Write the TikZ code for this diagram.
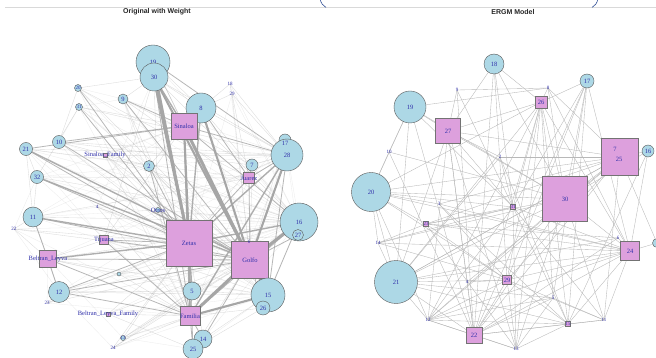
\documentclass[tikz,border=0pt]{standalone}
\usepackage{fontspec}
\setmainfont{Liberation Serif}
\newfontfamily\titlefont{Liberation Sans}
\usetikzlibrary{backgrounds}
\definecolor{lblue}{HTML}{ADD8E6}
\definecolor{plum}{HTML}{DDA0DD}
\definecolor{nlabel}{RGB}{48,48,170}
\definecolor{edgegray}{HTML}{A6A6A6}
\definecolor{framecol}{RGB}{50,80,150}
\tikzset{
  lbl/.style={font=\fontsize{6.5}{6.5}\selectfont, text=nlabel, inner sep=0pt},
  slbl/.style={font=\fontsize{5}{5}\selectfont, text=nlabel, inner sep=0pt},
  cnode/.style={circle, draw=black!65, line width=0.4pt, fill=lblue, inner sep=0pt, minimum size=#1, lbl},
  snode/.style={rectangle, draw=black!55, line width=0.4pt, fill=plum, inner sep=0pt, minimum size=#1, lbl},
  tnode/.style={slbl},
  w0/.style={draw=edgegray, line width=0.3pt, opacity=0.22},
  w1/.style={draw=edgegray, line width=0.35pt, opacity=0.4},
  w2/.style={draw=edgegray, line width=0.8pt, opacity=0.8},
  w3/.style={draw=edgegray, line width=1.4pt, opacity=0.9},
  w4/.style={draw=edgegray, line width=2.1pt},
  w5/.style={draw=edgegray, line width=3pt},
  rline/.style={draw=black!28, line width=0.35pt},
  paneltitle/.style={font=\titlefont\bfseries\fontsize{7}{7}\selectfont, text=black!85}
}
\begin{document}
\begin{tikzpicture}[x=1pt, y=-1pt]
\useasboundingbox (0,0) rectangle (656,358);
\begin{scope}[on background layer]
\fill[white] (0,0) rectangle (656,358);
\end{scope}

% strip along the top edge
\draw[black!15, line width=0.6pt] (5,7) -- (656,7);
\draw[framecol, line width=0.6pt] (320,-1) .. controls (321,3) and (323,6) .. (326,7.5);
\draw[framecol, line width=0.6pt] (598,-1) .. controls (597,3) and (595,6) .. (592,7.5);

\node[paneltitle] (tleft) at (157,12) {Original with Weight};
\node[paneltitle] (tright) at (513,12) {ERGM Model};

% ---------------- left network: nodes ----------------
\node[cnode=34pt] (L19) at (153,62) {19};
\node[cnode=28pt] (L30) at (154,77) {30};
\node[cnode=30pt] (L8) at (201,108) {8};
\node[tnode] (L18) at (230,84) {18};
\node[tnode] (L29) at (232,94) {29};
\node[cnode=7pt, slbl] (L20) at (78,88) {20};
\node[cnode=10pt] (L9) at (123,99) {9};
\node[cnode=7pt, slbl] (L31) at (79,107) {31};
\node[snode=26pt] (Sinaloa) at (184,126) {Sinaloa};
\node[cnode=13pt] (L10) at (59,142) {10};
\node[cnode=13pt] (L21) at (26,149) {21};
\node[snode=4pt] (SinFam) at (105,155) {};
\node[lbl] at (SinFam) {Sinaloa\_Family};
\node[cnode=11pt] (L2) at (149,166) {2};
\node[cnode=13pt] (L32) at (37,177) {32};
\node[cnode=12pt] (L17) at (285,140) {};
\node[cnode=32pt] (L28) at (287,155) {28};
\node[lbl] at (285,143) {17};
\node[cnode=12pt] (L7) at (252,165) {7};
\node[snode=11pt] (Juarez) at (249,178) {};
\node[lbl] at (Juarez) {Juarez};
\node[tnode] (L4) at (97,207) {4};
\node[cnode=5pt] (Otros) at (158,210) {};
\node[lbl] at (Otros) {Otros};
\node[cnode=20pt] (L11) at (33,217) {11};
\node[tnode] (L22) at (14,229) {22};
\node[cnode=38pt] (L16) at (299,222) {16};
\node[cnode=11pt] (L27) at (298,235) {27};
\node[snode=9pt] (Tijuana) at (104,240) {};
\node[lbl] at (Tijuana) {Tijuana};
\node[snode=46pt] (Zetas) at (189,243) {Zetas};
\node[snode=37pt] (Golfo) at (250,260) {Golfo};
\node[tnode] (L6) at (249,242) {6};
\node[snode=17pt] (BL) at (48,259) {};
\node[lbl] at (BL) {Beltran\_Leyva};
\node[cnode=4pt] (L3) at (119,274) {};
\node[cnode=18pt] (L5) at (192,291) {5};
\node[cnode=21pt] (L12) at (59,292) {12};
\node[cnode=34pt] (L15) at (268,295) {15};
\node[cnode=14pt] (L26) at (263,308) {26};
\node[tnode] (L23) at (47,303) {23};
\node[snode=4pt] (BLFam) at (108,314) {};
\node[lbl] at (BLFam) {Beltran\_Leyva\_Family};
\node[snode=19pt] (Familia) at (190,316) {Familia};
\node[cnode=18pt] (L14) at (203,339) {14};
\node[cnode=20pt] (L25) at (193,349) {25};
\node[cnode=5pt] (L13) at (123,338) {};
\node[tnode] at (L13) {13};
\node[tnode] (L24) at (113,348) {24};

% ---------------- left network: weighted ties ----------------
\begin{scope}[on background layer]
% faint ties
\foreach \a/\b in {L21/L2, L21/Otros, L21/Tijuana, L21/L16, L32/Sinaloa, L32/L2, L32/Otros,
  L32/Familia, L11/L2, L11/Sinaloa, L11/Otros, L11/L15, L22/L12, L22/Familia, L22/L16,
  L20/L2, L20/L16, L20/Familia, L31/L2, L31/L16, L31/Familia, L9/L28, L9/Familia, L9/L15,
  L10/L16, L10/Familia, L10/L15, L2/L28, L2/L16, L2/L5, L4/L30, L4/L28, L4/L16, L4/L15,
  Otros/L28, Otros/L15, Tijuana/L16, Tijuana/L15, Tijuana/L28, BL/L28, BL/L5, L3/L16, L3/L15,
  L12/L16, L12/L28, L23/L16, L23/Familia, BLFam/L15, BLFam/L16, L13/L15, L24/L15, L24/L16,
  L24/L5, L13/L25, L5/L16, L25/L15, L14/L16, L26/L16, L27/L28, L17/L16, L17/Zetas, L18/Golfo,
  L29/Zetas, L18/L16, L29/L16, L8/L15, L8/Familia, L19/L16, L19/L15, L30/L15, L7/L16,
  Juarez/L16, Juarez/Familia, L6/L16, L6/L28, SinFam/L28, SinFam/L15, SinFam/Familia,
  L22/L32, L23/BL, L13/BL, L24/L12, L3/L12, L4/L11, L4/L21, L9/L20, L9/L31, L10/L31}
  \draw[w0] (\a.center) -- (\b.center);
\foreach \a/\b in {L18/L8, L29/L8, L18/Juarez, L29/Golfo, L9/L30, L9/Zetas, L20/L30,
  L31/Sinaloa, L10/Zetas, L21/L32, L21/L11, L32/L11, L11/L12, L12/L23, L4/Zetas, L4/Golfo,
  Otros/Zetas, Otros/L30, L2/Golfo, L2/Sinaloa, SinFam/Zetas, SinFam/Sinaloa, L7/L28, L7/Golfo,
  L17/Golfo, L27/L16, L26/L15, L25/L14, L3/Zetas, L3/BL, L3/Golfo, BLFam/Zetas, BLFam/Golfo,
  L13/Familia, L24/Zetas, L13/Golfo, L22/Zetas, L22/L11, L22/BL, Tijuana/Sinaloa, Tijuana/L30,
  Tijuana/BL, L5/Golfo, L5/L15, L14/Zetas, L25/Golfo, L15/Zetas, L26/Familia, L8/Sinaloa,
  L8/L28, L8/L16, L19/Golfo, L19/Sinaloa, L30/L28, L30/L16, L10/L2, L20/L10, L9/L2, L31/L32,
  L20/Golfo, L31/Golfo, L21/Juarez, L32/Juarez, L11/Juarez, L10/L28, L9/L16, L12/L15,
  BL/L15, BL/L16, L23/Golfo, L24/Golfo, L13/L5, BLFam/L25, BLFam/Familia, L2/L15, L4/Familia,
  SinFam/Golfo, SinFam/L16, L20/Juarez, L31/L28, Otros/L16, Otros/Familia, L7/Zetas, L27/Zetas,
  L19/L8, L30/L8, L9/L7, L10/L7, L21/L28, L32/L16, L11/L16, L12/L5, L3/Familia, L6/Zetas,
  L22/Golfo, L23/Zetas, L13/Zetas, L24/Familia, L14/L15, L25/L26, L29/L28, L18/L28}
  \draw[w1] (\a.center) -- (\b.center);
\foreach \a/\b in {L10/Sinaloa, L32/Zetas, BL/Golfo, BL/L12, BL/L11, Tijuana/Zetas,
  Tijuana/Golfo, Familia/L5, Familia/L25, Familia/L14, Juarez/Zetas, Juarez/Golfo, Juarez/L28,
  L7/Juarez, Otros/Golfo, L2/Familia, L2/Zetas, L20/Zetas, L31/Zetas, L12/Zetas, L12/Golfo,
  L25/Zetas, L14/Golfo, L26/Golfo, L27/Golfo, L16/Familia, L21/Sinaloa, L11/Golfo, L9/Golfo,
  L30/Familia, L28/Sinaloa, L16/Sinaloa, BL/Familia, L12/Familia, Tijuana/Familia, L10/Golfo,
  L8/Juarez, L28/L15, L16/L15, L6/Golfo, L19/L28, L9/Sinaloa, L21/Zetas}
  \draw[w2] (\a.center) -- (\b.center);
\foreach \a/\b in {L30/Sinaloa, L28/Zetas, L16/Zetas, L11/Zetas, L21/Golfo, BL/Zetas,
  Familia/Zetas, L5/Zetas, L8/Zetas, L28/Familia, Sinaloa/Familia, L32/Golfo}
  \draw[w3] (\a.center) -- (\b.center);
\foreach \a/\b in {L30/Golfo, Sinaloa/Zetas, L28/Golfo, L15/Golfo, L8/Golfo, L19/Zetas,
  Familia/L15}
  \draw[w4] (\a.center) -- (\b.center);
\foreach \a/\b in {L30/Zetas, Sinaloa/Golfo, L16/Golfo, Familia/Golfo}
  \draw[w5] (\a.center) -- (\b.center);
\end{scope}

% ---------------- right network: nodes ----------------
\node[cnode=20pt] (R18) at (494,64) {18};
\node[cnode=14pt] (R17) at (587,81) {17};
\node[tnode] (R9) at (457,90) {9};
\node[tnode] (R8) at (548,88) {8};
\node[snode=12pt] (R26) at (541,102) {26};
\node[cnode=32pt] (R19) at (410,107) {19};
\node[snode=25pt] (R27) at (448,131) {27};
\node[tnode] (R10) at (389,152) {10};
\node[tnode] (R2) at (500,157) {2};
\node[snode=37pt] (R25) at (620,157) {};
\node[lbl] at (619,159) {25};
\node[lbl] (R7) at (615,149) {7};
\node[cnode=12pt] (R16) at (648,151) {16};
\node[cnode=39pt] (R20) at (371,192) {20};
\node[snode=45pt] (R30) at (565,199) {30};
\node[tnode] (R3) at (439,204) {3};
\node[snode=5pt, slbl] (R31) at (513,207) {31};
\node[snode=5pt, slbl] (R23) at (426,224) {23};
\node[tnode] (R14) at (378,243) {14};
\node[tnode] (R6) at (618,238) {6};
\node[snode=19pt] (R24) at (630,251) {24};
\node[cnode=9pt] (R1) at (657,243) {};
\node[cnode=43pt] (R21) at (396,282) {21};
\node[tnode] (R4) at (467,282) {4};
\node[snode=9pt] (R29) at (507,280) {29};
\node[tnode] (R5) at (553,298) {5};
\node[tnode] (R12) at (428,320) {12};
\node[snode=5pt, slbl] (R15) at (568,324) {15};
\node[tnode] (R11) at (604,320) {11};
\node[snode=16pt] (R22) at (474,335) {22};
\node[tnode] (R13) at (516,349) {13};

% ---------------- right network: simulated ties ----------------
\begin{scope}[on background layer]
\foreach \a/\b in {R18/R27, R18/R30, R18/R31, R18/R26, R18/R29, R18/R22,
  R17/R30, R17/R24, R17/R29, R17/R31, R17/R22, R17/R26, R17/R5, R17/R15,
  R9/R8, R9/R27, R9/R22, R9/R31,
  R8/R19, R8/R26, R8/R24, R8/R25, R8/R30,
  R26/R30, R26/R29, R26/R22, R26/R24, R26/R5, R26/R15, R26/R12, R26/R20, R26/R27, R26/R31, R26/R13, R26/R21,
  R19/R27, R19/R31, R19/R22, R19/R21, R19/R20, R19/R10, R19/R30,
  R27/R25, R27/R31, R27/R30, R27/R21, R27/R12, R27/R13, R27/R2, R27/R22, R27/R4,
  R10/R20, R10/R30, R10/R22,
  R2/R21, R2/R31, R2/R15, R2/R25,
  R20/R25, R20/R30, R20/R24, R20/R29, R20/R21, R20/R31, R20/R23, R20/R12, R20/R3, R20/R14,
  R25/R16, R25/R22, R25/R29, R25/R12, R25/R4, R25/R23, R25/R3, R25/R30, R25/R11, R25/R21,
  R16/R24, R16/R30, R16/R15,
  R30/R24, R30/R22, R30/R12, R30/R23, R30/R14, R30/R13, R30/R11,
  R3/R24, R3/R15, R3/R29,
  R31/R24, R31/R15, R31/R11, R31/R13, R31/R12, R31/R23,
  R23/R24, R23/R29, R23/R13, R23/R14,
  R14/R21, R14/R29, R14/R31,
  R6/R24, R6/R22, R6/R23, R6/R21,
  R24/R1, R24/R11, R24/R29, R24/R15, R24/R22, R24/R12, R24/R14,
  R21/R29, R21/R24, R21/R30, R21/R25, R21/R12, R21/R15, R21/R22, R21/R5,
  R4/R22, R4/R29,
  R29/R22, R29/R13, R29/R15, R29/R11, R29/R12,
  R5/R22, R5/R12, R5/R13, R5/R11,
  R12/R15, R12/R22, R12/R13,
  R15/R11, R15/R22, R15/R13,
  R22/R11, R22/R13, R1/R25}
  \draw[rline] (\a.center) -- (\b.center);
\end{scope}
\end{tikzpicture}
\end{document}
